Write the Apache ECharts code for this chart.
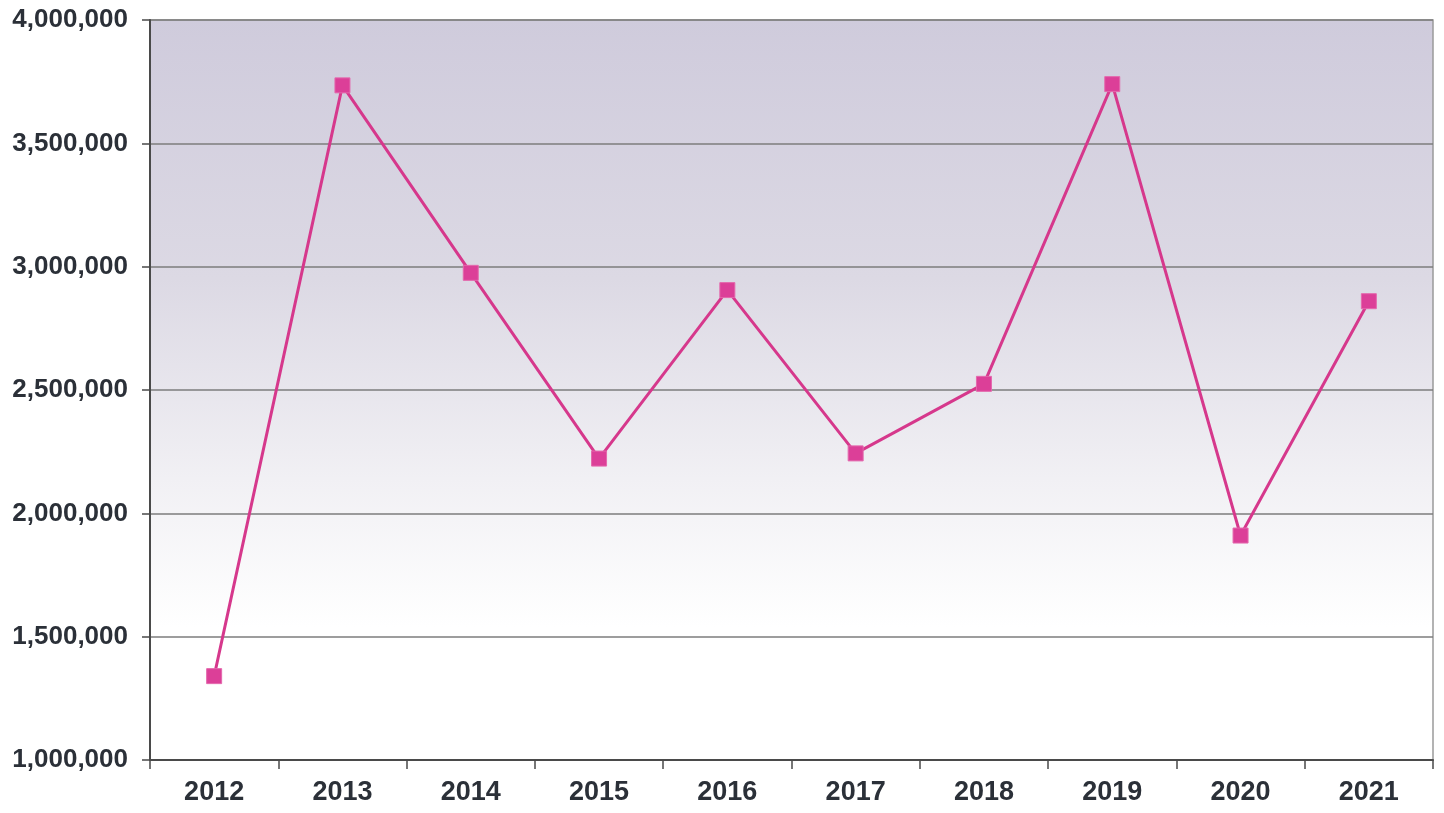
<!DOCTYPE html>
<html><head><meta charset="utf-8">
<script src="https://cdn.jsdelivr.net/npm/echarts@6/dist/echarts.min.js"></script>
<style>html,body{margin:0;padding:0;background:#fff}#c{width:1444px;height:813px}</style>
</head><body><div id="c"></div>
<script>
const years = ['2012','2013','2014','2015','2016','2017','2018','2019','2020','2021'];
const values = [1340000, 3735000, 2975000, 2222000, 2905000, 2243000, 2525000, 3740000, 1910000, 2860000];
const yMin = 1000000, yMax = 4000000, yStep = 500000;

const chart = echarts.init(document.getElementById('c'));
chart.setOption({
  animation: false,
  grid: {
    left: 150, right: 11, top: 20, bottom: 53,
    show: true,
    borderColor: '#9a9a9a', borderWidth: 1.5,
    backgroundColor: new echarts.graphic.LinearGradient(0, 0, 0, 1, [
      {offset: 0, color: '#cfcbdc'},
      {offset: 0.35, color: '#dcd9e4'},
      {offset: 0.62, color: '#f1f0f4'},
      {offset: 0.82, color: '#ffffff'},
      {offset: 1, color: '#ffffff'}
    ])
  },
  xAxis: {
    type: 'category', data: years, boundaryGap: true,
    axisLine: {lineStyle: {color: '#4a4a4a', width: 2}},
    axisTick: {show: true, length: 9, inside: false, lineStyle: {color: '#4a4a4a', width: 1.5}},
    axisLabel: {color: '#2b3038', fontFamily: 'Liberation Sans, Arial, sans-serif', fontWeight: 'bold', fontSize: 27, margin: 19},
    splitLine: {show: false}
  },
  yAxis: {
    type: 'value', min: yMin, max: yMax, interval: yStep,
    axisLine: {show: true, lineStyle: {color: '#4a4a4a', width: 2}},
    axisTick: {show: true, length: 8, lineStyle: {color: '#4a4a4a', width: 1.5}},
    axisLabel: {color: '#2b3038', fontFamily: 'Liberation Sans, Arial, sans-serif', fontWeight: 'bold', fontSize: 26, margin: 22,
      formatter: v => v.toLocaleString('en-US')},
    splitLine: {show: true, lineStyle: {color: '#7d7d7d', width: 1.5}}
  },
  series: [{
    type: 'line', data: values,
    symbol: 'rect', symbolSize: 15,
    lineStyle: {color: '#d6388c', width: 3},
    itemStyle: {color: '#dc3f98', borderColor: '#e468ad', borderWidth: 1},
    z: 5
  }]
});
</script></body></html>
